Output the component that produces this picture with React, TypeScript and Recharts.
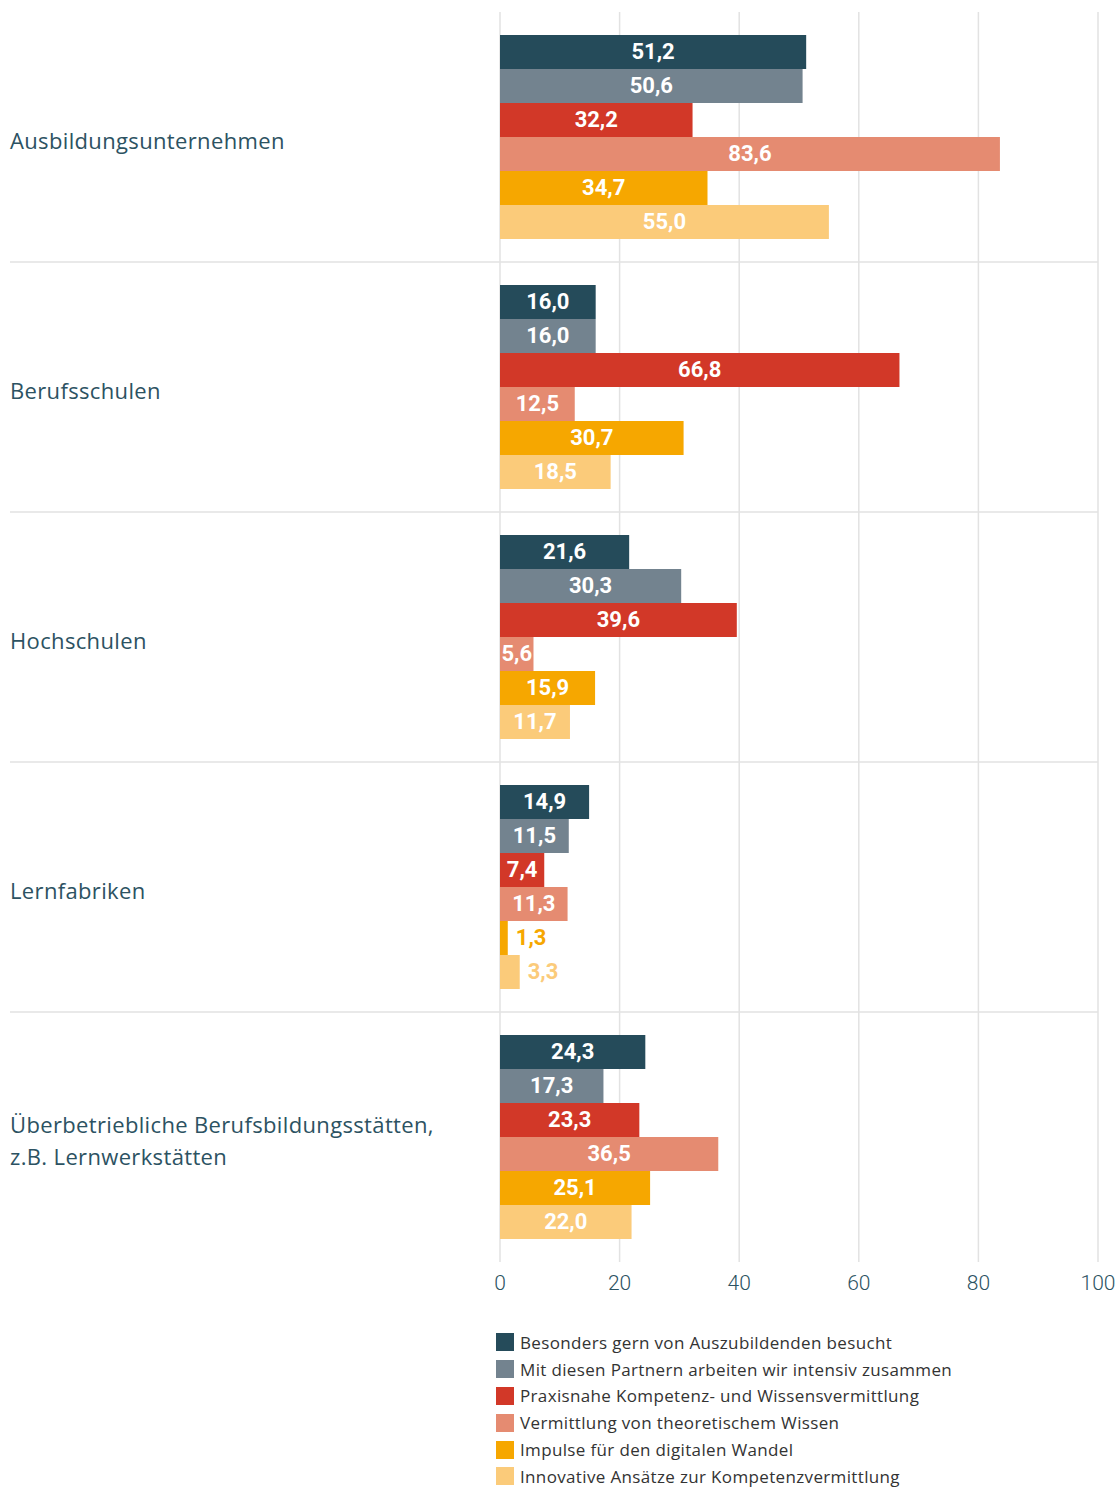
import React from 'react'
import { BarChart, Bar, XAxis, YAxis, CartesianGrid, Legend, LabelList } from 'recharts'

const categories = [
  'Ausbildungsunternehmen',
  'Berufsschulen',
  'Hochschulen',
  'Lernfabriken',
  'Überbetriebliche Berufsbildungsstätten, z.B. Lernwerkstätten',
]

const besucht = [51.2, 16.0, 21.6, 14.9, 24.3]
const partner = [50.6, 16.0, 30.3, 11.5, 17.3]
const praxis = [32.2, 66.8, 39.6, 7.4, 23.3]
const theorie = [83.6, 12.5, 5.6, 11.3, 36.5]
const digital = [34.7, 30.7, 15.9, 1.3, 25.1]
const innovativ = [55.0, 18.5, 11.7, 3.3, 22.0]

const xTicks = [0, 20, 40, 60, 80, 100]

const series = [
  { key: 'besucht', name: 'Besonders gern von Auszubildenden besucht', color: '#254b5a', values: besucht },
  { key: 'partner', name: 'Mit diesen Partnern arbeiten wir intensiv zusammen', color: '#73838f', values: partner },
  { key: 'praxis', name: 'Praxisnahe Kompetenz- und Wissensvermittlung', color: '#d23828', values: praxis },
  { key: 'theorie', name: 'Vermittlung von theoretischem Wissen', color: '#e58b71', values: theorie },
  { key: 'digital', name: 'Impulse für den digitalen Wandel', color: '#f6a700', values: digital },
  { key: 'innovativ', name: 'Innovative Ansätze zur Kompetenzvermittlung', color: '#fbcb7a', values: innovativ },
]

const data = categories.map((cat, i) => {
  const row: Record<string, any> = { cat }
  series.forEach(s => { row[s.key] = s.values[i] })
  return row
})

const TEXT = '#2c5262'
const LABEL_FONT = 'Roboto, sans-serif'
const SANS = '"Open Sans", sans-serif'

const fmt = (v: number) => v.toFixed(1).replace('.', ',')

// white label inside the bar, or coloured label to the right when the bar is too short
const makeLabel = (color: string) => (props: any) => {
  const { x, y, width, height, value } = props
  const inside = width >= 30
  return (
    <text
      x={inside ? x + width / 2 : x + width + 8}
      y={y + height / 2 - 1}
      dy="0.36em"
      textAnchor={inside ? 'middle' : 'start'}
      fill={inside ? '#fff' : color}
      fontFamily={LABEL_FONT}
      fontWeight={700}
      fontSize={22}
    >
      {fmt(value)}
    </text>
  )
}

const CategoryTick = (props: any) => {
  const { y, payload, index } = props
  const text: string = payload.value
  const lines = text.includes(', ') ? [text.split(', ')[0] + ',', text.split(', ')[1]] : [text]
  const lineH = 32
  const startY = y + 4 - ((lines.length - 1) * lineH) / 2
  return (
    <g>
      {index < categories.length - 1 && (
        <line x1={10} x2={1098} y1={y + 125} y2={y + 125} stroke="#e2e2e2" strokeWidth={1.5} />
      )}
      <text fill={TEXT} fontFamily={SANS} fontSize={22} letterSpacing={0.35}>
        {lines.map((l, i) => (
          <tspan key={i} x={10} y={startY + i * lineH} dy="0.36em">{l}</tspan>
        ))}
      </text>
    </g>
  )
}

const renderLegend = () => (
  <div style={{ height: 186, paddingTop: 27, boxSizing: 'border-box', fontFamily: SANS, fontSize: 17, color: '#333', letterSpacing: 0.35 }}>
    {series.map(s => (
      <div key={s.key} style={{ display: 'flex', alignItems: 'center', height: 26.8 }}>
        <span style={{ width: 18, height: 18, background: s.color, display: 'inline-block', marginRight: 6 }} />
        <span>{s.name}</span>
      </div>
    ))}
  </div>
)

export default function App() {
  return (
    <div style={{ position: 'absolute', left: 0, top: 0, background: '#fff' }}>
      <BarChart
        width={1120}
        height={1488}
        data={data}
        layout="vertical"
        margin={{ top: 12, right: 22, left: 10, bottom: 0 }}
        barGap={0}
        barSize={34}
      >
        <CartesianGrid horizontal={false} vertical stroke="#e2e2e2" strokeWidth={1.5} />
        <XAxis
          type="number"
          domain={[0, 100]}
          ticks={xTicks}
          axisLine={false}
          tickLine={false}
          height={40}
          tickMargin={7}
          tick={{ fill: TEXT, fontSize: 21, fontFamily: LABEL_FONT, fontWeight: 300 }}
          interval={0}
        />
        <YAxis
          type="category"
          dataKey="cat"
          width={490}
          axisLine={false}
          tickLine={false}
          tick={<CategoryTick />}
          interval={0}
        />
        <Legend
          verticalAlign="bottom"
          align="left"
          content={renderLegend}
          wrapperStyle={{ left: 496, width: 600 }}
        />
        {series.map(s => (
          <Bar key={s.key} dataKey={s.key} name={s.name} fill={s.color} isAnimationActive={false}>
            <LabelList dataKey={s.key} content={makeLabel(s.color)} />
          </Bar>
        ))}
      </BarChart>
    </div>
  )
}
